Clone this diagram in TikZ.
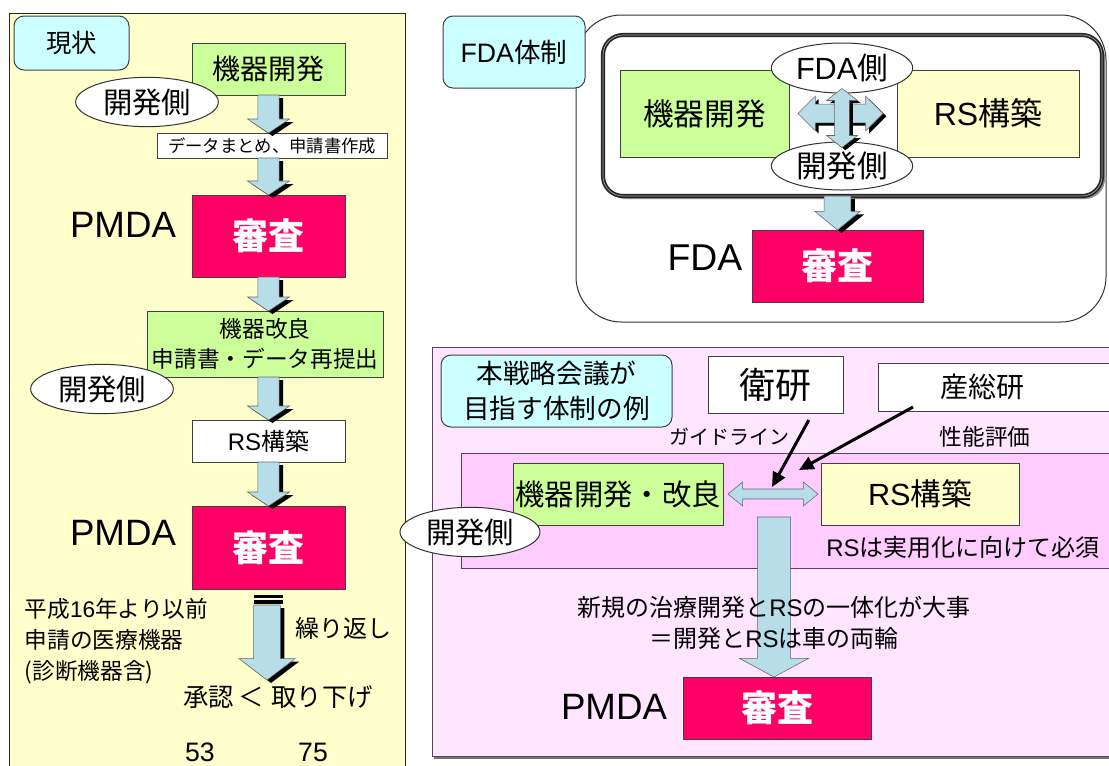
\documentclass[tikz,border=0pt]{standalone}
\usepackage{fontspec}
\setmainfont{Noto Sans CJK JP}
\newfontfamily\lat{Liberation Sans}
\usetikzlibrary{shapes.geometric,arrows.meta,fit,calc}
\definecolor{panelY}{HTML}{FFFFCC}
\definecolor{boxG}{HTML}{CCFF99}
\definecolor{boxR}{HTML}{FF0066}
\definecolor{boxC}{HTML}{CCFFFF}
\definecolor{arrowB}{HTML}{B7DEE8}
\definecolor{pinkL}{HTML}{FFE5FF}
\definecolor{pinkM}{HTML}{FFCCFF}
\newcommand\setfs[2]{\fontsize{#1}{#2}\selectfont}
% down block arrow path: from, to, shaft half, head half, head length, dx, dy
\newcommand\bdownpath[7]{let \p1=#1, \p2=#2 in
 ({\x1-#3+#6},{\y1+#7}) -- ({\x1+#3+#6},{\y1+#7}) -- ({\x1+#3+#6},{\y2+#5+#7}) --
 ({\x1+#4+#6},{\y2+#5+#7}) -- ({\x1+#6},{\y2+#7}) -- ({\x1-#4+#6},{\y2+#5+#7}) --
 ({\x1-#3+#6},{\y2+#5+#7}) -- cycle}
% horizontal double arrow: left, right, shaft half, head half, head length, dx, dy
\newcommand\hdblpath[7]{let \p1=#1, \p2=#2 in
 ({\x1+#6},{\y1+#7}) -- ({\x1+#5+#6},{\y1+#4+#7}) -- ({\x1+#5+#6},{\y1+#3+#7}) --
 ({\x2-#5+#6},{\y1+#3+#7}) -- ({\x2-#5+#6},{\y1+#4+#7}) -- ({\x2+#6},{\y1+#7}) --
 ({\x2-#5+#6},{\y1-#4+#7}) -- ({\x2-#5+#6},{\y1-#3+#7}) -- ({\x1+#5+#6},{\y1-#3+#7}) --
 ({\x1+#5+#6},{\y1-#4+#7}) -- cycle}
% vertical double arrow: top, bottom, shaft half, head half, head length, dx, dy
\newcommand\vdblpath[7]{let \p1=#1, \p2=#2 in
 ({\x1+#6},{\y1+#7}) -- ({\x1+#4+#6},{\y1-#5+#7}) -- ({\x1+#3+#6},{\y1-#5+#7}) --
 ({\x1+#3+#6},{\y2+#5+#7}) -- ({\x1+#4+#6},{\y2+#5+#7}) -- ({\x1+#6},{\y2+#7}) --
 ({\x1-#4+#6},{\y2+#5+#7}) -- ({\x1-#3+#6},{\y2+#5+#7}) -- ({\x1-#3+#6},{\y1-#5+#7}) --
 ({\x1-#4+#6},{\y1-#5+#7}) -- cycle}
\newcommand\blockdown[5]{%
 \fill[bshadow] \bdownpath{#1}{#2}{#3}{#4}{#5}{3pt}{-2.25pt};
 \filldraw[barrow] \bdownpath{#1}{#2}{#3}{#4}{#5}{0pt}{0pt};}
\begin{document}
\begin{tikzpicture}[x=0.75pt,y=-0.75pt,
 area/.style args={#1,#2,#3,#4}{at={({(#1+#3)/2},{(#2+#4)/2})},
   minimum width={(#3-#1)*0.75pt}, minimum height={(#4-#2)*0.75pt}},
 box/.style={draw=black!75, line width=0.75pt, inner sep=0pt, outer sep=0pt},
 greenbox/.style={box, fill=boxG},
 yellowbox/.style={box, fill=panelY},
 whitebox/.style={box, fill=white},
 cyanbox/.style={box, fill=boxC, rounded corners=7.5pt},
 redbox/.style={box, fill=boxR, text=white, font=\setfs{27}{30}\bfseries},
 ovalbox/.style={ellipse, draw=black!80, fill=white, line width=0.75pt, inner sep=0pt,
   minimum width=107pt, minimum height=37pt, font=\setfs{22}{24}},
 pmda/.style={font=\lat\setfs{27.5}{30}},
 barrow/.style={fill=arrowB, draw=black!60, line width=0.4pt},
 bshadow/.style={fill=black},
 thinarrow/.style={draw=black, line width=2.25pt, -{Triangle[length=11pt,width=10pt]}},
]
\useasboundingbox (0,0) rectangle (1109,765);
\clip (0,0) rectangle (1109,765);
\fill[white] (0,0) rectangle (1109,765);

%================ left panel =================
\node[yellowbox, draw=black!85, area={9,13,405,790}] (leftpanel) {};
\node[cyanbox, area={14,16,129,70}, font=\setfs{19}{22}] (genjo) {現状};
\node[greenbox, area={192,43,345,95}, font=\setfs{21}{24}] (dev1) {機器開発};
\node[whitebox, area={157,133,387,158}, font=\setfs{13}{15}] (data) {データまとめ、申請書作成};
\node[redbox, area={192,195,345,277}] (rev1) {審査};
\node[pmda] at (123,225) (pmda1) {PMDA};
\node[greenbox, area={147,311,383,377}, align=center, font=\setfs{17}{22.5}] (kairyo) {機器改良\\申請書・データ再提出};
\node[whitebox, area={192,420,345,462}, font=\setfs{18}{20}] (rs1) {{\lat RS}構築};
\node[redbox, area={192,506,345,589}] (rev2) {審査};
\node[pmda] at (123,533) (pmda2) {PMDA};

\blockdown{(dev1.south)}{(dev1.south |- data.north)}{7.9pt}{15.75pt}{10.5pt}
\blockdown{(dev1.south |- data.south)}{(rev1.north)}{7.9pt}{15.75pt}{10.5pt}
\blockdown{(rev1.south)}{(rev1.south |- kairyo.north)}{7.9pt}{15.75pt}{10.5pt}
\blockdown{(rev1.south |- kairyo.south)}{(rs1.north)}{7.9pt}{15.75pt}{10.5pt}
\blockdown{(rs1.south)}{(rev2.north)}{7.9pt}{15.75pt}{10.5pt}

% repeat (striped) arrow
\coordinate (reptop) at (267,605);
\coordinate (reptip) at (267,680);
\blockdown{(reptop)}{(reptip)}{10pt}{21pt}{16pt}
\fill[black] (254,595) rectangle (283,597.5);
\fill[black] (254,600) rectangle (283,603.5);
\node[anchor=west, font=\setfs{18}{20}] at (291,628) (kuri) {繰り返し};
\node[anchor=west, align=left, font=\setfs{17}{23}] at (20,641) (heisei) {平成{\lat 16}年より以前\\申請の医療機器\\(診断機器含)};
\node[font=\setfs{19}{22}] at (278,697) (shonin) {承認\hspace{0.18em}＜\hspace{0.3em}取り下げ};
\node[font=\lat\setfs{20}{22}] at (200,752) (n53) {53};
\node[font=\lat\setfs{20}{22}] at (313,752) (n75) {75};

\node[ovalbox] at (147,102) (side1) {開発側};
\node[ovalbox] at (102,389) (side2) {開発側};

%================ FDA panel =================
\node[box, draw=black!80, fill=white, rounded corners=34pt, area={576,15,1106,322}] (fdaouter) {};
\node[cyanbox, area={443,16,585,88}, font=\setfs{20}{22}] (fdatitle) {{\lat FDA}体制};
\fill[black!45, rounded corners=15pt] (606,38) rectangle (1105,199);
\node[box, draw=black!85, line width=1.3pt, double=black!35, double distance=0.5pt, fill=white,
      rounded corners=15pt, area={603,35,1102,196}] (fdainner) {};
\node[greenbox, area={620,70,789,157}, font=\setfs{23}{25}] (fdadev) {機器開発};
\node[yellowbox, area={897,70,1079,157}, font=\setfs{24}{26}] (fdars) {{\lat RS}構築};
\node[ovalbox, minimum width=106pt, minimum height=37.5pt, font=\setfs{23}{25}] at (842,68) (fdaside) {{\lat FDA}側};
\node[ovalbox, minimum width=106pt, minimum height=36pt, font=\setfs{23}{25}] at (842,166) (devside) {開発側};
\fill[bshadow] \hdblpath{([xshift=6.75pt]fdadev.east)}{([xshift=-10.5pt]fdars.west)}{7pt}{13pt}{13pt}{2.5pt}{-2pt};
\filldraw[barrow] \hdblpath{([xshift=6.75pt]fdadev.east)}{([xshift=-10.5pt]fdars.west)}{7pt}{13pt}{13pt}{0pt}{0pt};
\fill[bshadow] \vdblpath{([yshift=3.75pt]fdaside.south)}{([yshift=-4.5pt]devside.north)}{5.6pt}{11.6pt}{9pt}{2.5pt}{-2pt};
\filldraw[barrow] \vdblpath{([yshift=3.75pt]fdaside.south)}{([yshift=-4.5pt]devside.north)}{5.6pt}{11.6pt}{9pt}{0pt}{0pt};
\node[redbox, area={752,230,923,302}] (fdarev) {審査};
\node[font=\lat\setfs{28}{30}] at (705,258) (fdalabel) {FDA};
\blockdown{(fdarev.north |- fdainner.south)}{(fdarev.north)}{10pt}{17pt}{14pt}

%================ proposal panel =================
\fill[black!55] (434,350) rectangle (1130,758.5);
\node[box, draw=black!70, fill=pinkL, area={432,347,1130,756}] (bpanel) {};
\node[cyanbox, area={441,355,672,427}, align=center, font=\setfs{20}{26}] (goal) {本戦略会議が\\目指す体制の例};
\node[whitebox, area={708,356,843,413}, font=\setfs{27}{29}] (eiken) {衛研};
\node[whitebox, area={878,363,1130,411}] (sanso) {};
\node[font=\setfs{21}{23}] at (982,387) (sansotext) {産総研};
\node[font=\setfs{15}{17}] at (729,437) (guide) {ガイドライン};
\node[font=\setfs{17}{19}] at (985,437) (perf) {性能評価};
\node[box, draw=black!70, fill=pinkM, area={461,453,1130,568}] (ipanel) {};
\node[greenbox, area={513,463,723,525}, font=\setfs{22}{24}] (dev3) {機器開発・改良};
\node[yellowbox, area={821,463,1019,525}, font=\setfs{23}{25}] (rs3) {{\lat RS}構築};
\node[font=\setfs{18}{20}] at (963,547) (must) {{\lat RS}は実用化に向けて必須};
\filldraw[barrow] \hdblpath{([xshift=3.75pt]dev3.east)}{([xshift=-2.25pt]rs3.west)}{3.75pt}{9pt}{11pt}{0pt}{0pt};
\node[redbox, area={683,677,871,739}] (rev3) {審査};
\node[pmda] at (614,707) (pmda3) {PMDA};
\coordinate (bigtop) at (774,517);
\filldraw[barrow] \bdownpath{(bigtop)}{(bigtop |- rev3.north)}{12.4pt}{26pt}{14pt}{0pt}{0pt};
\node[font=\setfs{18}{20}] at (774,607) (t1) {新規の治療開発と{\lat RS}の一体化が大事};
\node[font=\setfs{18}{20}] at (774,638) (t2) {＝開発と{\lat RS}は車の両輪};
\coordinate (tipA) at (772,487);
\coordinate (tipB) at (799,470);
\draw[thinarrow] ([shift={(25pt,-5.25pt)}]eiken.south) -- (tipA);
\draw[thinarrow] ([shift={(26.25pt,3pt)}]sanso.south west) -- (tipB);
\node[ovalbox, minimum width=105pt] at (470,532) (side3) {開発側};
\end{tikzpicture}
\end{document}
